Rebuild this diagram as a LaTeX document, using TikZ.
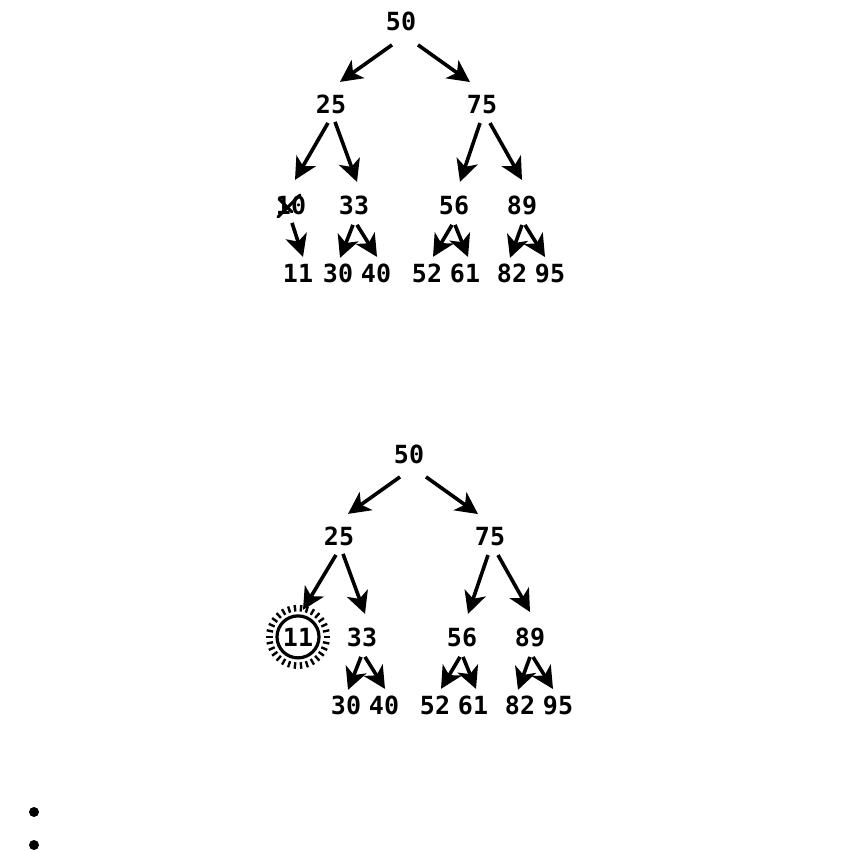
\documentclass[tikz,border=0pt]{standalone}
\usepackage{fontspec}
\setmainfont{DejaVu Sans Mono}
\usetikzlibrary{arrows.meta}
\begin{document}
\begin{tikzpicture}[x=1pt,y=-1pt,
  num/.style={inner sep=0pt,anchor=base,font=\fontsize{25}{25}\selectfont\bfseries},
  arr/.style={line width=3.6pt,-{Stealth[length=22pt,width=22pt,inset=6pt]}},
  strike/.style={line width=3pt,line cap=round},
  ray/.style={line width=2.4pt},
  bullet/.style={circle,fill=black,inner sep=0pt,minimum size=10pt}]
\useasboundingbox (0,0) rectangle (843,851);
% ---------- top tree ----------
\node[num] (a50) at (401,31) {50};
\node[num] (a25) at (331,113) {25};
\node[num] (a75) at (482,113) {75};
\node[num] (a10) at (291,214) {10};
\node[num] (a33) at (354,214) {33};
\node[num] (a56) at (454,214) {56};
\node[num] (a89) at (522,214) {89};
\node[num] (a11) at (298,282) {11};
\node[num] (a30) at (338,282) {30};
\node[num] (a40) at (376,282) {40};
\node[num] (a52) at (427,282) {52};
\node[num] (a61) at (465,282) {61};
\node[num] (a82) at (512,282) {82};
\node[num] (a95) at (550,282) {95};
\draw[strike] ([shift={(-13,12)}]a10.center) -- ([shift={(9,-10)}]a10.center);
\draw[strike] ([shift={(-12,-6)}]a10.center) -- ([shift={(1,7)}]a10.center);
\draw[arr] ([shift={(-9,23)}]a50.center) -- ([shift={(9,-22)}]a25.center);
\draw[arr] ([shift={(17,23)}]a50.center) -- ([shift={(-12,-22)}]a75.center);
\draw[arr] ([shift={(-3,19)}]a25.center) -- ([shift={(4,-25)}]a10.center);
\draw[arr] ([shift={(4,18)}]a25.center) -- ([shift={(3,-23)}]a33.center);
\draw[arr] ([shift={(-2,19)}]a75.center) -- ([shift={(6,-23)}]a56.center);
\draw[arr] ([shift={(8,19)}]a75.center) -- ([shift={(0,-25)}]a89.center);
\draw[arr] ([shift={(1,18)}]a10.center) -- ([shift={(5,-16)}]a11.center);
\draw[arr] ([shift={(-1,20)}]a33.center) -- ([shift={(2,-15)}]a30.center);
\draw[arr] ([shift={(3,20)}]a33.center) -- ([shift={(1,-16)}]a40.center);
\draw[arr] ([shift={(-2,20)}]a56.center) -- ([shift={(6,-16)}]a52.center);
\draw[arr] ([shift={(1,20)}]a56.center) -- ([shift={(3,-16)}]a61.center);
\draw[arr] ([shift={(0,20)}]a89.center) -- ([shift={(-2,-15)}]a82.center);
\draw[arr] ([shift={(3,20)}]a89.center) -- ([shift={(-5,-16)}]a95.center);
% ---------- bottom tree ----------
\begin{scope}[shift={(8,432)}]
\node[num] (b50) at (401,31) {50};
\node[num] (b25) at (331,113) {25};
\node[num] (b75) at (482,113) {75};
\node[num] (b11) at (290,214) {11};
\node[num] (b33) at (354,214) {33};
\node[num] (b56) at (454,214) {56};
\node[num] (b89) at (522,214) {89};
\node[num] (b30) at (338,282) {30};
\node[num] (b40) at (376,282) {40};
\node[num] (b52) at (427,282) {52};
\node[num] (b61) at (465,282) {61};
\node[num] (b82) at (512,282) {82};
\node[num] (b95) at (550,282) {95};
\draw[line width=3.2pt] (b11.center) circle[radius=21];
\foreach \a in {0,12,...,348}
  \draw[ray] ([shift={(\a:25.5)}]b11.center) -- ([shift={(\a:32)}]b11.center);
\draw[arr] ([shift={(-9,23)}]b50.center) -- ([shift={(9,-22)}]b25.center);
\draw[arr] ([shift={(17,23)}]b50.center) -- ([shift={(-12,-22)}]b75.center);
\draw[arr] ([shift={(-3,19)}]b25.center) -- ([shift={(5,-27)}]b11.center);
\draw[arr] ([shift={(4,18)}]b25.center) -- ([shift={(3,-23)}]b33.center);
\draw[arr] ([shift={(-2,19)}]b75.center) -- ([shift={(6,-23)}]b56.center);
\draw[arr] ([shift={(8,19)}]b75.center) -- ([shift={(0,-25)}]b89.center);
\draw[arr] ([shift={(-1,20)}]b33.center) -- ([shift={(2,-15)}]b30.center);
\draw[arr] ([shift={(3,20)}]b33.center) -- ([shift={(1,-16)}]b40.center);
\draw[arr] ([shift={(-2,20)}]b56.center) -- ([shift={(6,-16)}]b52.center);
\draw[arr] ([shift={(1,20)}]b56.center) -- ([shift={(3,-16)}]b61.center);
\draw[arr] ([shift={(0,20)}]b89.center) -- ([shift={(-2,-15)}]b82.center);
\draw[arr] ([shift={(3,20)}]b89.center) -- ([shift={(-5,-16)}]b95.center);
\end{scope}
% ---------- bullets ----------
\node[bullet] (d1) at (34,812) {};
\node[bullet] (d2) at (34,845) {};
\end{tikzpicture}
\end{document}
